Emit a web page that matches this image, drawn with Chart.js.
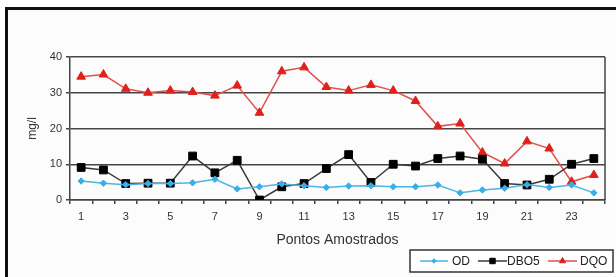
<!DOCTYPE html>
<html>
<head>
<meta charset="utf-8">
<script src="https://cdn.jsdelivr.net/npm/chart.js@4/dist/chart.umd.min.js"></script>
<style>
html,body{margin:0;padding:0;background:#fff;}
#wrap{width:616px;height:277px;position:relative;}
</style>
</head>
<body>
<div id="wrap"><canvas id="c" width="616" height="277"></canvas></div>
<script>
const categories = ['1','2','3','4','5','6','7','8','9','10','11','12','13','14','15','16','17','18','19','20','21','22','23','24'];
const od   = [5.3,4.7,4.3,4.6,4.6,4.8,5.8,3.1,3.7,4.5,4.0,3.5,3.9,4.0,3.7,3.7,4.2,2.0,2.8,3.3,4.3,3.5,4.2,2.0];
const dbo5 = [9.1,8.4,4.6,4.7,4.7,12.3,7.6,11.1,0.0,3.7,4.6,8.8,12.7,4.9,10.0,9.5,11.6,12.3,11.4,4.6,4.2,5.8,10.0,11.6];
const dqo  = [34.5,35.1,31.1,30.0,30.6,30.2,29.2,32.0,24.4,36.0,37.1,31.6,30.6,32.2,30.6,27.7,20.6,21.4,13.3,10.2,16.4,14.4,5.1,7.0];
const yTicks = [0,10,20,30,40];
const seriesNames = ['OD','DBO5','DQO'];
const axisTitleY = 'mg/l';
const axisTitleX = 'Pontos Amostrados';

const FONT = 'Arial, "Liberation Sans", sans-serif';

const framePlugin = {
  id: 'frame',
  beforeDraw(chart){
    const ctx = chart.ctx;
    ctx.save();
    ctx.fillStyle = '#ffffff';
    ctx.fillRect(0,0,chart.width,chart.height);
    ctx.fillStyle = '#fcfcfc';
    ctx.fillRect(7,9,chart.width,chart.height);
    ctx.strokeStyle = '#111';
    ctx.lineWidth = 3;
    ctx.strokeRect(6.5,8.5,chart.width+10,chart.height+10);
    ctx.restore();
  },
  afterDatasetsDraw(chart){
    const ctx = chart.ctx;
    const a = chart.chartArea;
    ctx.save();
    ctx.strokeStyle = '#444';
    ctx.lineWidth = 1.5;
    ctx.beginPath();
    ctx.moveTo(a.right, a.top);
    ctx.lineTo(a.right, a.bottom);
    ctx.stroke();
    ctx.restore();
  },
  afterDraw(chart){
    const ctx = chart.ctx;
    ctx.save();
    ctx.fillStyle = '#ffffff';
    ctx.fillRect(410,250,203,22);
    ctx.strokeStyle = '#333';
    ctx.lineWidth = 1.5;
    ctx.strokeRect(410,250,203,22);
    const items = [
      {x:420, w:28, tx:452},
      {x:478, w:29, tx:507},
      {x:548, w:29, tx:580}
    ];
    const y = 261;
    ctx.font = '12px ' + FONT;
    ctx.textBaseline = 'middle';
    ctx.textAlign = 'left';
    chart.data.datasets.forEach((ds,i)=>{
      const it = items[i];
      ctx.strokeStyle = ds.borderColor;
      ctx.lineWidth = ds.borderWidth;
      ctx.beginPath();
      ctx.moveTo(it.x,y);
      ctx.lineTo(it.x+it.w,y);
      ctx.stroke();
      ctx.fillStyle = ds.pointBackgroundColor;
      ctx.strokeStyle = ds.pointBorderColor;
      ctx.lineWidth = 1;
      Chart.helpers.drawPoint(ctx, {pointStyle: ds.pointStyle, rotation:0, radius: ds.pointRadius*0.7, borderWidth:1}, it.x+it.w/2, y);
      ctx.fillStyle = '#222';
      ctx.fillText(ds.label, it.tx, y+0.5);
    });
    ctx.restore();
  }
};

new Chart(document.getElementById('c'), {
  type: 'line',
  data: {
    labels: categories,
    datasets: [
      {label: seriesNames[0], data: od, borderColor:'#4cb4e6', backgroundColor:'#3aaee6', pointBackgroundColor:'#3aaee6', pointBorderColor:'#3aaee6', borderWidth:1.5, pointStyle:'rectRot', pointRadius:3.2, pointBorderWidth:1},
      {label: seriesNames[1], data: dbo5, borderColor:'#3a3a3a', backgroundColor:'#000', pointBackgroundColor:'#000', pointBorderColor:'#000', borderWidth:1.5, pointStyle:'rect', pointRadius:5.5, pointBorderWidth:1},
      {label: seriesNames[2], data: dqo, borderColor:'#e2504a', backgroundColor:'#e0201c', pointBackgroundColor:'#e0201c', pointBorderColor:'#e0201c', borderWidth:1.5, pointStyle:'triangle', pointRadius:5, pointBorderWidth:1}
    ]
  },
  options: {
    responsive:false,
    animation:false,
    devicePixelRatio:1,
    layout:{padding:{top:57,right:11,bottom:0,left:0}},
    plugins:{legend:{display:false}, tooltip:{enabled:false}},
    elements:{line:{tension:0}},
    scales:{
      x:{
        offset:true,
        grid:{offset:true, drawOnChartArea:false, drawTicks:true, tickLength:4, color:'#444', lineWidth:1.5},
        border:{display:true, color:'#444', width:1.5},
        ticks:{autoSkip:false, maxRotation:0, color:'#333', font:{family:FONT,size:11}, padding:6,
          callback:function(v,i){ return i%2===0 ? categories[i] : ''; }},
        title:{display:true, text:axisTitleX, color:'#333', font:{family:FONT,size:14}, padding:{top:4,bottom:28}},
        afterFit(scale){ scale.height = 77; }
      },
      y:{
        min:0, max:40,
        afterBuildTicks(scale){ scale.ticks = yTicks.map(v=>({value:v})); },
        grid:{color:'#444', lineWidth:1.5, tickLength:4, drawTicks:true},
        border:{display:true, color:'#444', width:1.5},
        ticks:{color:'#333', font:{family:FONT,size:11}, padding:4},
        title:{display:true, text:axisTitleY, color:'#333', font:{family:FONT,size:12}, padding:{top:25,bottom:0}},
        afterFit(scale){ scale.width = 70; }
      }
    }
  },
  plugins:[framePlugin]
});
</script>
</body>
</html>
